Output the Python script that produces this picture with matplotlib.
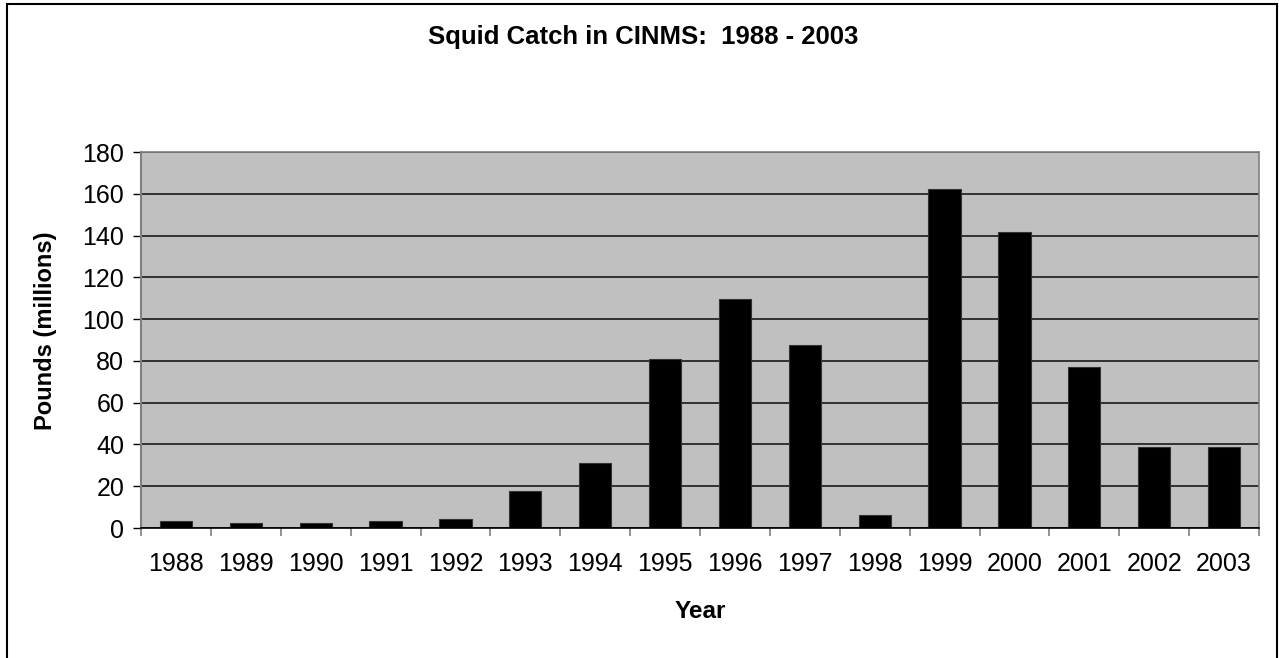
import matplotlib
matplotlib.use("Agg")
import matplotlib.pyplot as plt
import numpy as np
from matplotlib.patches import Rectangle

# Squid catch, millions of pounds
years = [str(y) for y in range(1988, 2004)]
catch = [3.4, 2.2, 2.2, 3.4, 4.2, 17.7, 31.2, 81.0, 109.8, 87.8,
         6.2, 162.4, 141.5, 77.2, 38.7, 38.7]
yticks = list(range(0, 181, 20))

plt.rcParams["font.family"] = ["Liberation Sans", "DejaVu Sans"]

W, H = 1279, 658
fig = plt.figure(figsize=(W / 100, H / 100), dpi=100)
ax = fig.add_axes([141 / W, 1 - 528 / H, (1259 - 141) / W, (528 - 152) / H])

x = np.arange(len(years))
ax.bar(x, catch, width=0.46, color="black", edgecolor="#333333", lw=0.8, zorder=3)

ax.set_facecolor("#c0c0c0")
ax.set_xlim(-0.5, len(years) - 0.5)
ax.set_ylim(0, 180)
ax.set_yticks(yticks)
ax.set_yticklabels([str(t) for t in yticks], fontsize=18)
ax.yaxis.grid(True, color="#1a1a1a", lw=1.2, zorder=1)

# category labels centred, ticks between categories
ax.set_xticks(x)
ax.set_xticklabels(years, fontsize=18)
ax.tick_params(axis="x", length=0, pad=17)
ax.set_xticks(np.arange(-0.5, len(years)), minor=True)
ax.tick_params(axis="x", which="minor", length=6, direction="out", color="#808080", width=1.2)
ax.tick_params(axis="y", length=6, direction="out", color="black", width=1.0, pad=6)

for side in ["top", "right"]:
    ax.spines[side].set_color("#808080")
    ax.spines[side].set_linewidth(1.2)
ax.spines["left"].set_color("#808080")
ax.spines["left"].set_linewidth(1.5)
ax.spines["bottom"].set_color("black")
ax.spines["bottom"].set_linewidth(1.2)
ax.spines["bottom"].set_zorder(4)

fig.text(700 / W, 1 - 612 / H, "Year", ha="center", va="center",
         fontsize=17.5, fontweight="bold")
fig.text(46 / W, 1 - 331 / H, "Pounds (millions)", ha="center", va="center",
         rotation=90, fontsize=17, fontweight="bold")

fig.text(643 / W, 1 - 44 / H, "Squid Catch in CINMS:  1988 - 2003",
         ha="center", va="baseline", fontsize=18.5, fontweight="bold")

# outer chart frame
fig.patches.append(Rectangle((7 / W, -0.01), (1277 - 7) / W, 1.01 - 4 / H,
                             transform=fig.transFigure, fill=False,
                             edgecolor="black", lw=1.5))

fig.savefig("out.png", dpi=100)
